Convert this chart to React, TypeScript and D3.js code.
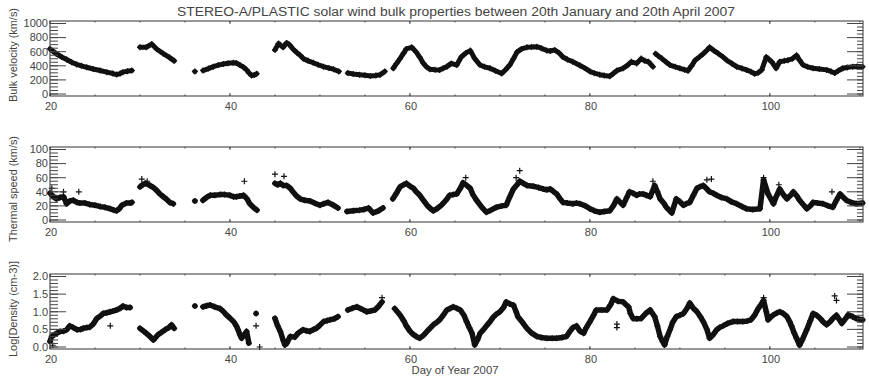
import * as d3 from "d3";

// Day of year 2007 vs. value (gaps = separate segments)
const velocitySegments: [number, number][][] = [
  [[20.0,640],[20.3,610],[20.7,571],[21.3,525],[21.85,489],[22.4,450],[22.96,420],[23.5,400],[24.07,379],[24.8,355],[25.56,333],[26.3,310],[27.0,290],[27.4,276],[27.8,290],[28.1,310],[28.6,322],[29.1,333]],
  [[30.0,662],[30.7,663],[31.3,708],[31.85,639],[32.6,571],[33.3,516],[33.8,470]],
  [[36.1,320]],
  [[37.0,333],[37.6,360],[38.15,388],[38.7,410],[39.26,425],[39.8,435],[40.37,443],[40.7,440],[41.1,411],[41.5,380],[41.85,342],[42.1,300],[42.4,262],[42.7,270],[42.96,288]],
  [[45.0,626],[45.4,716],[45.9,662],[46.3,725],[46.6,700],[47.0,639],[47.4,590],[47.8,548],[48.15,502],[48.7,470],[49.26,443],[49.8,415],[50.4,388],[51.0,368],[51.5,352],[52.1,320]],
  [[53.1,297],[53.7,285],[54.4,274],[55.0,265],[55.6,255],[56.2,262],[56.7,274],[57.2,320]],
  [[58.15,365],[58.5,430],[58.9,502],[59.3,580],[59.6,639],[60.2,662],[60.7,594],[61.1,520],[61.5,434],[61.8,390],[62.2,352],[62.8,345],[63.3,342],[63.7,365],[64.1,388],[64.6,434],[65.2,411],[65.7,525],[66.2,580],[66.7,616],[67.2,502],[67.8,411],[68.3,385],[68.9,365],[69.5,330],[70.2,290],[70.6,340],[71.1,411],[71.5,500],[71.9,594],[72.4,640],[73.0,662],[73.5,665],[74.1,671],[74.6,650],[75.2,616],[75.6,610],[76.1,625],[76.6,580],[77.0,525],[77.5,490],[78.1,457],[78.9,405],[79.4,370],[80.0,320],[80.5,295],[81.1,274],[81.6,262],[82.2,251],[82.6,290],[83.0,333],[83.7,365],[84.2,410],[84.6,457],[85.2,434],[85.7,502],[86.1,470],[86.5,457],[87.0,388]],
  [[87.3,571],[87.6,540],[88.0,502],[88.5,450],[88.9,411],[89.5,385],[90.0,365],[90.5,345],[90.9,330],[91.3,400],[91.7,479],[92.2,530],[92.6,571],[93.0,620],[93.3,662],[93.8,615],[94.3,571],[94.8,525],[95.2,479],[95.8,430],[96.3,388],[96.9,362],[97.4,342],[97.9,315],[98.3,288],[98.7,300],[99.1,342],[99.6,525],[100.2,457],[100.7,365],[101.1,457],[101.6,470],[102.0,479],[102.5,500],[102.96,548],[103.3,480],[103.7,411],[104.2,385],[104.8,365],[105.5,355],[106.3,342],[106.8,320],[107.2,297],[107.6,330],[108.1,365],[108.6,375],[109.2,388],[109.7,390],[110.3,388]],
];
const velocityOutliers: [number, number][] = [];

const thermalSegments: [number, number][][] = [
  [[20.0,38],[20.3,34],[20.7,30],[21.1,32],[21.5,33],[21.85,23],[22.2,27],[22.6,28],[23.0,25],[23.3,24],[23.9,24],[24.4,22],[25.0,21],[25.6,19],[26.1,18],[26.7,16],[27.1,14],[27.4,13],[27.7,16],[28.0,21],[28.5,24],[28.9,24],[29.1,25]],
  [[30.0,47],[30.3,50],[30.6,52],[31.1,49],[31.5,46],[31.85,42],[32.2,37],[32.6,33],[33.0,29],[33.3,25],[33.7,23]],
  [[36.1,27]],
  [[37.0,28],[37.4,32],[37.8,35],[38.3,35],[38.9,36],[39.4,36],[40.0,35],[40.4,33],[40.7,33],[41.1,34],[41.5,35],[41.9,30],[42.2,23],[42.6,18],[43.0,14]],
  [[45.0,52],[45.3,50],[45.6,52],[45.9,49],[46.3,49],[46.7,45],[47.0,40],[47.4,34],[47.8,30],[48.3,28],[48.9,27],[49.4,24],[50.0,21],[50.4,23],[50.9,25],[51.5,21],[52.0,17]],
  [[53.0,12],[53.7,13],[54.4,14],[54.9,15],[55.4,17],[55.9,10],[56.5,13],[57.0,17]],
  [[58.1,30],[58.5,38],[58.9,47],[59.3,50],[59.6,52],[60.0,48],[60.4,45],[60.7,40],[61.1,35],[61.5,28],[61.9,21],[62.3,16],[62.6,13],[63.0,16],[63.5,21],[64.0,28],[64.4,35],[64.8,36],[65.2,37],[65.6,45],[65.9,53],[66.3,49],[66.7,45],[67.0,36],[67.4,28],[68.0,18],[68.5,11],[69.0,14],[69.6,18],[70.2,20],[70.7,21],[71.1,33],[71.5,44],[71.9,50],[72.2,55],[72.6,52],[73.0,49],[73.7,48],[74.3,46],[74.8,44],[75.2,43],[75.6,44],[76.0,40],[76.3,37],[76.7,30],[77.0,25],[77.5,24],[78.1,23],[78.5,24],[78.9,23],[79.5,20],[80.0,16],[80.5,13],[81.1,11],[81.6,12],[82.2,13],[82.6,20],[83.0,30],[83.3,26],[83.7,21],[84.1,32],[84.4,40],[84.8,38],[85.2,35],[85.5,37],[85.9,37],[86.3,35],[86.7,33],[87.2,49],[87.5,40],[87.8,30],[88.2,24],[88.5,18],[88.8,14],[89.1,10],[89.6,30],[90.0,26],[90.4,21],[90.7,23],[91.1,25],[91.5,35],[91.9,45],[92.2,47],[92.6,49],[93.0,44],[93.3,40],[93.7,38],[94.1,35],[94.6,32],[95.2,30],[95.7,26],[96.3,23],[96.9,19],[97.4,16],[98.1,15],[98.9,16],[99.3,57],[99.8,37],[100.4,23],[100.7,33],[101.1,44],[101.5,36],[101.9,30],[102.3,35],[102.6,40],[103.0,34],[103.3,28],[103.7,22],[104.1,16],[104.5,20],[104.8,25],[105.3,24],[105.9,23],[106.5,20],[107.0,18],[107.4,28],[107.8,37],[108.1,33],[108.5,28],[109.0,25],[109.6,23],[110.3,24]],
];
const thermalOutliers: [number, number][] = [
  [20.2,45],[21.5,40],[23.2,40],[30.2,58],[30.8,55],[41.6,55],[45.0,65],[46.0,62],[66.2,60],[71.8,60],[72.2,70],[87.0,55],[93.0,57],[93.5,58],[99.3,60],[101.0,50],[106.9,40],
];

const densitySegments: [number, number][][] = [
  [[20.0,0.16],[20.2,0.3],[20.5,0.35],[21.1,0.44],[21.5,0.45],[21.85,0.49],[22.2,0.6],[22.6,0.55],[23.0,0.49],[23.4,0.5],[23.7,0.53],[24.1,0.55],[24.4,0.56],[24.8,0.65],[25.2,0.81],[25.6,0.88],[25.9,0.95],[26.3,0.97],[26.7,1.0],[27.0,1.02],[27.4,1.05],[27.8,1.1],[28.1,1.16],[28.5,1.12],[28.9,1.12]],
  [[30.0,0.53],[30.4,0.45],[30.7,0.39],[31.1,0.3],[31.5,0.2],[32.0,0.35],[32.4,0.42],[32.8,0.49],[33.2,0.55],[33.5,0.63],[33.8,0.53]],
  [[36.1,1.16]],
  [[37.0,1.14],[37.4,1.17],[37.8,1.19],[38.3,1.14],[38.9,1.09],[39.3,1.0],[39.6,0.91],[40.0,0.82],[40.4,0.72],[40.7,0.6],[40.9,0.49],[41.1,0.35],[41.3,0.25],[41.6,0.35],[41.85,0.44],[42.1,0.11]],
  [[42.9,0.95]],
  [[45.0,0.81],[45.3,0.6],[45.6,0.44],[45.9,0.2],[46.1,0.06],[46.3,0.1],[46.7,0.3],[47.2,0.28],[47.6,0.4],[48.1,0.49],[48.5,0.46],[48.9,0.44],[49.3,0.5],[49.6,0.53],[50.0,0.62],[50.4,0.72],[50.8,0.75],[51.1,0.77],[51.6,0.8],[52.0,0.86]],
  [[53.1,1.05],[53.6,1.1],[54.1,1.14],[54.6,1.08],[55.2,1.0],[55.6,1.02],[56.1,1.05],[56.5,1.15],[56.9,1.28]],
  [[58.3,1.09],[58.6,1.0],[58.9,0.91],[59.3,0.75],[59.6,0.6],[60.0,0.45],[60.4,0.35],[60.7,0.3],[61.1,0.25],[61.5,0.33],[61.9,0.44],[62.3,0.55],[62.6,0.63],[63.0,0.7],[63.3,0.77],[63.7,0.9],[64.1,1.05],[64.5,1.1],[64.8,1.14],[65.2,1.1],[65.6,1.05],[66.0,0.9],[66.3,0.72],[66.6,0.55],[66.9,0.39],[67.2,0.06],[67.5,0.2],[67.8,0.39],[68.2,0.5],[68.5,0.6],[68.9,0.72],[69.3,0.86],[69.6,0.93],[70.0,1.0],[70.4,1.12],[70.7,1.28],[71.1,1.22],[71.5,1.19],[71.8,1.0],[72.0,0.86],[72.5,0.7],[73.0,0.53],[73.5,0.4],[74.1,0.3],[74.6,0.27],[75.2,0.25],[75.8,0.25],[76.3,0.25],[76.9,0.27],[77.4,0.3],[77.8,0.45],[78.1,0.55],[78.5,0.6],[78.9,0.45],[79.3,0.39],[79.6,0.55],[80.0,0.72],[80.4,0.9],[80.7,1.05],[81.3,1.05],[81.9,1.05],[82.3,1.2],[82.6,1.37],[83.1,1.3],[83.7,1.28],[84.0,1.2],[84.3,1.14],[84.5,0.95],[84.8,0.81],[85.2,0.8],[85.7,0.81],[86.2,0.95],[86.7,1.05],[87.2,0.86],[87.5,0.6],[87.8,0.3],[88.1,0.15],[88.3,0.06],[88.6,0.3],[88.9,0.49],[89.2,0.7],[89.6,0.86],[90.0,0.9],[90.4,0.95],[90.8,1.1],[91.1,1.25],[91.5,1.1],[91.9,1.0],[92.3,0.85],[92.6,0.72],[93.0,0.5],[93.3,0.25],[93.7,0.35],[94.1,0.49],[94.4,0.55],[94.8,0.6],[95.3,0.67],[95.9,0.72],[96.4,0.72],[97.0,0.72],[97.5,0.74],[97.9,0.77],[98.3,0.9],[98.7,1.09],[99.0,1.2],[99.3,1.32],[99.6,1.0],[99.8,0.77],[100.1,0.85],[100.4,0.91],[100.8,0.97],[101.1,1.0],[101.5,0.95],[101.9,0.86],[102.2,0.72],[102.4,0.6],[102.7,0.4],[102.96,0.25],[103.3,0.05],[103.6,0.2],[104.1,0.49],[104.5,0.75],[104.8,0.95],[105.2,0.9],[105.6,0.81],[105.9,0.72],[106.3,0.63],[106.7,0.72],[107.0,0.81],[107.4,0.9],[108.0,0.67],[108.4,0.8],[108.7,0.91],[109.2,0.86],[109.6,0.81],[110.3,0.77]],
];
const densityOutliers: [number, number][] = [
  [20.3,0.05],[26.7,0.6],[42.9,0.6],[43.3,0.0],[56.9,1.4],[83.0,0.65],[83.0,0.55],[99.3,1.4],[107.2,1.45],[107.4,1.32],
];

const xMajorTicks = [20, 40, 60, 80, 100];
const velocityTicks = [0, 200, 400, 600, 800, 1000];
const thermalTicks = [0, 20, 40, 60, 80, 100];
const densityTicks = [0, 0.5, 1.0, 1.5, 2.0];

const title =
  "STEREO-A/PLASTIC solar wind bulk properties between 20th January and 20th April 2007";

const W = 869;
const H = 378;
const left = 50;
const right = 863;
const ink = "#444";
const font = "'Liberation Sans', 'DejaVu Sans', sans-serif";

const x = d3.scaleLinear().domain([20, 110.35]).range([left, right]);

const panels = [
  {
    top: 21, bottom: 96, max: 1000, ticks: velocityTicks, minor: 50, fmt: d3.format("d"),
    label: "Bulk velocity (km/s)", labelY: 55, labelLen: 94,
    segments: velocitySegments, outliers: velocityOutliers, width: 5,
  },
  {
    top: 147, bottom: 222, max: 100, ticks: thermalTicks, minor: 5, fmt: d3.format("d"),
    label: "Thermal speed (km/s)", labelY: 189, labelLen: 106,
    segments: thermalSegments, outliers: thermalOutliers, width: 5.5,
  },
  {
    top: 274, bottom: 349, max: 2, ticks: densityTicks, minor: 0.1, fmt: d3.format(".1f"),
    label: "Log[Density (cm-3)]", labelY: 309, labelLen: 96,
    segments: densitySegments, outliers: densityOutliers, width: 5.5,
  },
];

// IDL psym=1 style plus marker
const plus = "M-3,0H3M0,-3V3";

function Panel({ p }: { p: (typeof panels)[number] }) {
  const y = d3.scaleLinear().domain([0, p.max]).range([p.bottom - 2, p.top + 2.5]);
  const line = d3
    .line<[number, number]>()
    .x((d) => x(d[0]))
    .y((d) => y(d[1]));
  const minorTicks = d3.range(0, p.max + p.minor / 2, p.minor);
  const xMinor = d3.range(20, 110.35, 5);
  return (
    <g>
      {p.segments.map((seg, i) => (
        <path key={i} d={line(seg) ?? ""} fill="none" stroke="#111"
          strokeWidth={p.width} strokeLinejoin="round" strokeLinecap="round" />
      ))}
      {p.segments.flat().concat(p.outliers).map((d, i) => (
        <path key={"m" + i} d={plus} transform={`translate(${x(d[0])},${y(d[1])})`}
          stroke="#111" strokeWidth={1.2} fill="none" />
      ))}
      <rect x={left} y={p.top} width={right - left} height={p.bottom - p.top}
        fill="none" stroke="#333" strokeWidth={1} />
      {minorTicks.map((t, i) => (
        <g key={"ym" + i} stroke={ink} strokeWidth={1}>
          <line x1={left} x2={left + 8} y1={y(t)} y2={y(t)} />
          <line x1={right} x2={right - 6} y1={y(t)} y2={y(t)} />
        </g>
      ))}
      {p.ticks.map((t) => (
        <g key={"yM" + t}>
          <line x1={left} x2={left + 16} y1={y(t)} y2={y(t)} stroke={ink} />
          <line x1={right} x2={right - 16} y1={y(t)} y2={y(t)} stroke={ink} />
          <text x={left - 2} y={y(t)} dy="0.35em" textAnchor="end"
            fontSize={11} fill={ink} fontFamily={font}>{p.fmt(t)}</text>
        </g>
      ))}
      {xMinor.map((t) => (
        <g key={"xm" + t} stroke={ink}>
          <line x1={x(t)} x2={x(t)} y1={p.bottom} y2={p.bottom - 1.5} />
          <line x1={x(t)} x2={x(t)} y1={p.top} y2={p.top + 1.5} />
        </g>
      ))}
      {xMajorTicks.map((t) => (
        <g key={"xM" + t}>
          <line x1={x(t)} x2={x(t)} y1={p.bottom} y2={p.bottom - 3} stroke={ink} />
          <line x1={x(t)} x2={x(t)} y1={p.top} y2={p.top + 3} stroke={ink} />
          <text x={x(t) + 1} y={p.bottom + 14} textAnchor="middle"
            fontSize={11} fill={ink} fontFamily={font}>{t}</text>
        </g>
      ))}
      <text transform={`translate(17,${p.labelY}) rotate(-90)`} textAnchor="middle"
        fontSize={10.5} fill={ink} fontFamily={font}
        textLength={p.labelLen} lengthAdjust="spacingAndGlyphs">{p.label}</text>
    </g>
  );
}

export default function App() {
  return (
    <svg width={W} height={H} style={{ position: "absolute", left: 0, top: 0, background: "#fff" }}>
      <rect width={W} height={H} fill="#fff" />
      <text x={456} y={16} textAnchor="middle" fontSize={12} fill={ink} fontFamily={font}
        textLength={558} lengthAdjust="spacingAndGlyphs">{title}</text>
      {panels.map((p, i) => (
        <Panel key={i} p={p} />
      ))}
      <text x={455} y={374} textAnchor="middle" fontSize={11} fill={ink} fontFamily={font}
        textLength={87} lengthAdjust="spacingAndGlyphs">Day of Year 2007</text>
    </svg>
  );
}
